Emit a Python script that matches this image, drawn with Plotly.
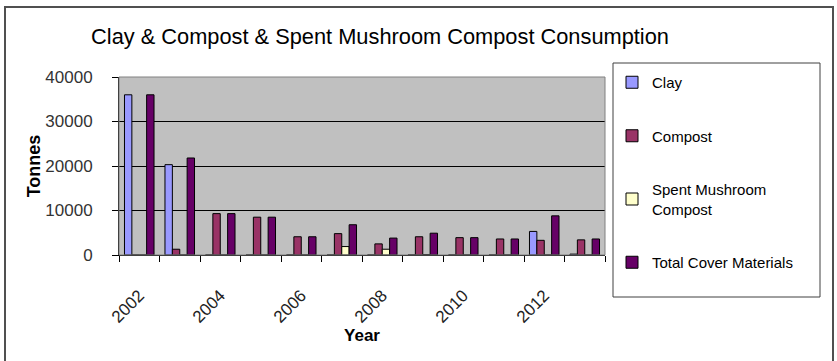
import plotly.graph_objects as go

years = [2002, 2003, 2004, 2005, 2006, 2007, 2008, 2009, 2010, 2011, 2012, 2013]
clay = [36000, 20300, 0, 0, 0, 0, 0, 0, 0, 0, 5300, 200]
compost = [0, 1300, 9300, 8500, 4100, 4800, 2500, 4100, 3900, 3600, 3300, 3400]
spent_mushroom = [0, 0, 0, 0, 0, 1900, 1300, 100, 0, 0, 0, 0]
total_cover = [36000, 21800, 9300, 8500, 4100, 6800, 3800, 4900, 3900, 3600, 8800, 3600]
tick_years = [2002, 2004, 2006, 2008, 2010, 2012]

series = [
    ("Clay", clay, "#9999FF"),
    ("Compost", compost, "#993366"),
    ("Spent Mushroom<br>Compost", spent_mushroom, "#FFFFCC"),
    ("Total Cover Materials", total_cover, "#660066"),
]

FONT = "Liberation Sans, Arial, sans-serif"
W, H = 837, 361
L, R, T, B = 119, 232, 77, 106
pw, ph = W - L - R, H - T - B


def px2x(px):
    return (px - L) / pw


def px2y(py):
    return (H - B - py) / ph


fig = go.Figure()
for i, (name, vals, col) in enumerate(series):
    fig.add_trace(go.Bar(
        x=years, y=vals, name=name, legendgroup=f"g{i}",
        marker=dict(color=col, line=dict(color="#000000", width=1)),
    ))

fig.update_layout(
    width=W, height=H,
    margin=dict(l=L, r=R, t=T, b=B),
    paper_bgcolor="#FFFFFF",
    plot_bgcolor="#C0C0C0",
    barmode="group",
    bargap=0.27,
    bargroupgap=0,
    font=dict(family=FONT, color="#000000"),
    title=dict(
        text="Clay & Compost & Spent Mushroom Compost Consumption",
        x=380 / W, xref="container", xanchor="center",
        y=1 - 36 / H, yref="container", yanchor="middle",
        font=dict(size=21.8, family=FONT, color="#000000"),
    ),
    showlegend=True,
    legend=dict(
        x=px2x(612), y=px2y(66), xanchor="left", yanchor="top",
        bgcolor="rgba(0,0,0,0)", borderwidth=0,
        font=dict(size=15, family=FONT, color="#000000"),
        tracegroupgap=31, traceorder="grouped", itemwidth=30,
        maxheight=400,
    ),
    xaxis=dict(
        range=[2001.5, 2013.5],
        tickmode="array", tickvals=tick_years,
        ticktext=[str(y) for y in tick_years],
        ticks="", tickangle=-45,
        ticklabelstandoff=23,
        tickfont=dict(size=17, family=FONT, color="#222222"),
        showgrid=False, zeroline=False,
        showline=True, linecolor="#000000", linewidth=1,
        minor=dict(tickmode="linear", tick0=2001.5, dtick=1,
                   ticks="outside", ticklen=6, tickcolor="#000000",
                   showgrid=False),
        title=dict(text="<b>Year</b>", font=dict(size=17, family=FONT), standoff=2),
    ),
    yaxis=dict(
        range=[0, 40000], dtick=10000, tick0=0, tickformat="d",
        ticks="outside", ticklen=6, tickcolor="#000000",
        ticklabelstandoff=16,
        tickfont=dict(size=17, family=FONT, color="#333333"),
        showgrid=True, gridcolor="#000000", gridwidth=1,
        zeroline=False,
        showline=True, linecolor="#000000", linewidth=1,
        title=dict(text="<b>Tonnes</b>", font=dict(size=18, family=FONT), standoff=0),
    ),
    shapes=[
        dict(type="rect", xref="paper", yref="paper",
             x0=0, x1=1, y0=0, y1=1,
             line=dict(color="#808080", width=1), layer="above"),
        dict(type="rect", xref="paper", yref="paper",
             x0=px2x(613), x1=px2x(820), y0=px2y(297), y1=px2y(63),
             line=dict(color="#404040", width=1), fillcolor="rgba(0,0,0,0)"),
        dict(type="rect", xref="paper", yref="paper",
             x0=px2x(5), x1=px2x(833), y0=px2y(372), y1=px2y(7),
             line=dict(color="#505050", width=2), fillcolor="rgba(0,0,0,0)"),
    ],
)

fig.write_html("out.html")
